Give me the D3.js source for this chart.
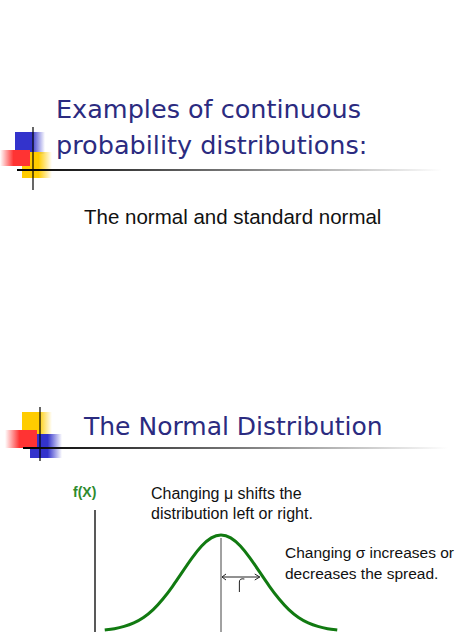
<!DOCTYPE html>
<html lang="en">
<head>
<meta charset="UTF-8">
<script src="https://d3js.org/d3.v7.min.js"></script>
<style>
  body { margin: 0; background: #fff; }
  .title { font-family: "DejaVu Sans", Verdana, sans-serif; fill: #2b2b80; }
  .txt { font-family: "Liberation Sans", Arial, sans-serif; fill: #111; }
</style>
</head>
<body>
<script>
// standard normal density, read at z steps
const zValues = [-3, -2.75, -2.5, -2.25, -2, -1.75, -1.5, -1.25, -1, -0.75, -0.5, -0.25, 0,
                 0.25, 0.5, 0.75, 1, 1.25, 1.5, 1.75, 2, 2.25, 2.5, 2.75, 3];
const density = [0.004, 0.009, 0.018, 0.032, 0.054, 0.086, 0.130, 0.183, 0.242, 0.301, 0.352, 0.387, 0.399,
                 0.387, 0.352, 0.301, 0.242, 0.183, 0.130, 0.086, 0.054, 0.032, 0.018, 0.009, 0.004];
const titles = [["Examples of continuous", "probability distributions:"], ["The Normal Distribution"]];
const subtitle = "The normal and standard normal";
const muNote = ["Changing \u03bc shifts the", "distribution left or right."];
const sigmaNote = ["Changing \u03c3 increases or", "decreases the spread."];

const W = 474, H = 632;
const svg = d3.select('body').append('svg').attr('width', W).attr('height', H);
const defs = svg.append('defs');

function grad(id, color, x1) {
  const g = defs.append('linearGradient').attr('id', id).attr('x1', x1 ? 1 : 0).attr('x2', x1 ? 0 : 1);
  g.append('stop').attr('offset', '0.55').attr('stop-color', color).attr('stop-opacity', 1);
  g.append('stop').attr('offset', '1').attr('stop-color', color).attr('stop-opacity', 0);
}
grad('gBlue', '#3333cc'); grad('gYel', '#ffcc00'); grad('gRed', '#ff3333', true);
const lg = defs.append('linearGradient').attr('id', 'gLine');
lg.append('stop').attr('offset', '0').attr('stop-color', '#000');
lg.append('stop').attr('offset', '0.5').attr('stop-color', '#777');
lg.append('stop').attr('offset', '1').attr('stop-color', '#fff');

// decoration 1
svg.append('rect').attr('x', 15).attr('y', 132).attr('width', 30).attr('height', 22).attr('fill', 'url(#gBlue)');
svg.append('rect').attr('x', 22).attr('y', 152).attr('width', 30).attr('height', 26).attr('fill', 'url(#gYel)');
svg.append('rect').attr('x', 0).attr('y', 150).attr('width', 30).attr('height', 16).attr('fill', 'url(#gRed)');
svg.append('line').attr('x1', 33).attr('x2', 33).attr('y1', 127).attr('y2', 190).attr('stroke', '#000').attr('stroke-width', 1.2);
svg.append('rect').attr('x', 17).attr('y', 169).attr('width', 425).attr('height', 2).attr('fill', 'url(#gLine)');

// decoration 2
svg.append('rect').attr('x', 22).attr('y', 412).attr('width', 30).attr('height', 25).attr('fill', 'url(#gYel)');
svg.append('rect').attr('x', 30).attr('y', 434).attr('width', 32).attr('height', 24).attr('fill', 'url(#gBlue)');
svg.append('rect').attr('x', 5).attr('y', 430).attr('width', 32).attr('height', 18).attr('fill', 'url(#gRed)');
svg.append('line').attr('x1', 40).attr('x2', 40).attr('y1', 407).attr('y2', 461).attr('stroke', '#000').attr('stroke-width', 1.2);
svg.append('rect').attr('x', 23).attr('y', 447).attr('width', 425).attr('height', 2).attr('fill', 'url(#gLine)');

// titles
svg.append('text').attr('class', 'title').attr('x', 56).attr('y', 118).attr('font-size', 25.5).text(titles[0][0]);
svg.append('text').attr('class', 'title').attr('x', 56).attr('y', 154).attr('font-size', 25.5).text(titles[0][1]);
svg.append('text').attr('class', 'title').attr('x', 84).attr('y', 435).attr('font-size', 25).text(titles[1][0]);
svg.append('text').attr('class', 'txt').attr('x', 84).attr('y', 224).attr('font-size', 20.5).text(subtitle);

// chart
const x = d3.scaleLinear().domain([-3.2, 3.2]).range([97, 345]);
const y = d3.scaleLinear().domain([0, 0.399]).range([631, 534]);
svg.append('line').attr('x1', 95).attr('x2', 95).attr('y1', 510).attr('y2', 632).attr('stroke', '#222').attr('stroke-width', 1.5);
svg.append('line').attr('x1', x(0)).attr('x2', x(0)).attr('y1', 538).attr('y2', 632).attr('stroke', '#444').attr('stroke-width', 1);
svg.append('path').datum(zValues.map((z, i) => [z, density[i]]))
  .attr('d', d3.line().x(d => x(d[0])).y(d => y(d[1])).curve(d3.curveBasis))
  .attr('fill', 'none').attr('stroke', '#117a11').attr('stroke-width', 3);

// sigma arrow
const ay = 577;
svg.append('line').attr('x1', x(0) + 1).attr('x2', x(1)).attr('y1', ay).attr('y2', ay).attr('stroke', '#222').attr('stroke-width', 1);
svg.append('path').attr('d', `M${x(0) + 5},${ay - 3}L${x(0) + 1},${ay}L${x(0) + 5},${ay + 3}`).attr('fill', 'none').attr('stroke', '#222');
svg.append('path').attr('d', `M${x(1) - 5},${ay - 3}L${x(1)},${ay}L${x(1) - 5},${ay + 3}`).attr('fill', 'none').attr('stroke', '#222');
svg.append('path').attr('d', `M${x(0.5) + 4},${ay + 2}Q${x(0.5) - 1},${ay + 1} ${x(0.5) - 1},${ay + 5}L${x(0.5) - 1},${ay + 15}`).attr('fill', 'none').attr('stroke', '#222').attr('stroke-width', 1);

svg.append('text').attr('x', 73).attr('y', 497).attr('font-size', 14).attr('font-weight', 'bold')
  .attr('font-family', 'Liberation Sans, Arial, sans-serif').attr('fill', '#2e8b2e').text('f(X)');
muNote.forEach((t, i) => svg.append('text').attr('class', 'txt').attr('x', 151).attr('y', 499 + i * 20).attr('font-size', 16).text(t));
sigmaNote.forEach((t, i) => svg.append('text').attr('class', 'txt').attr('x', 285).attr('y', 558 + i * 21).attr('font-size', 15.5).text(t));
</script>
</body>
</html>
